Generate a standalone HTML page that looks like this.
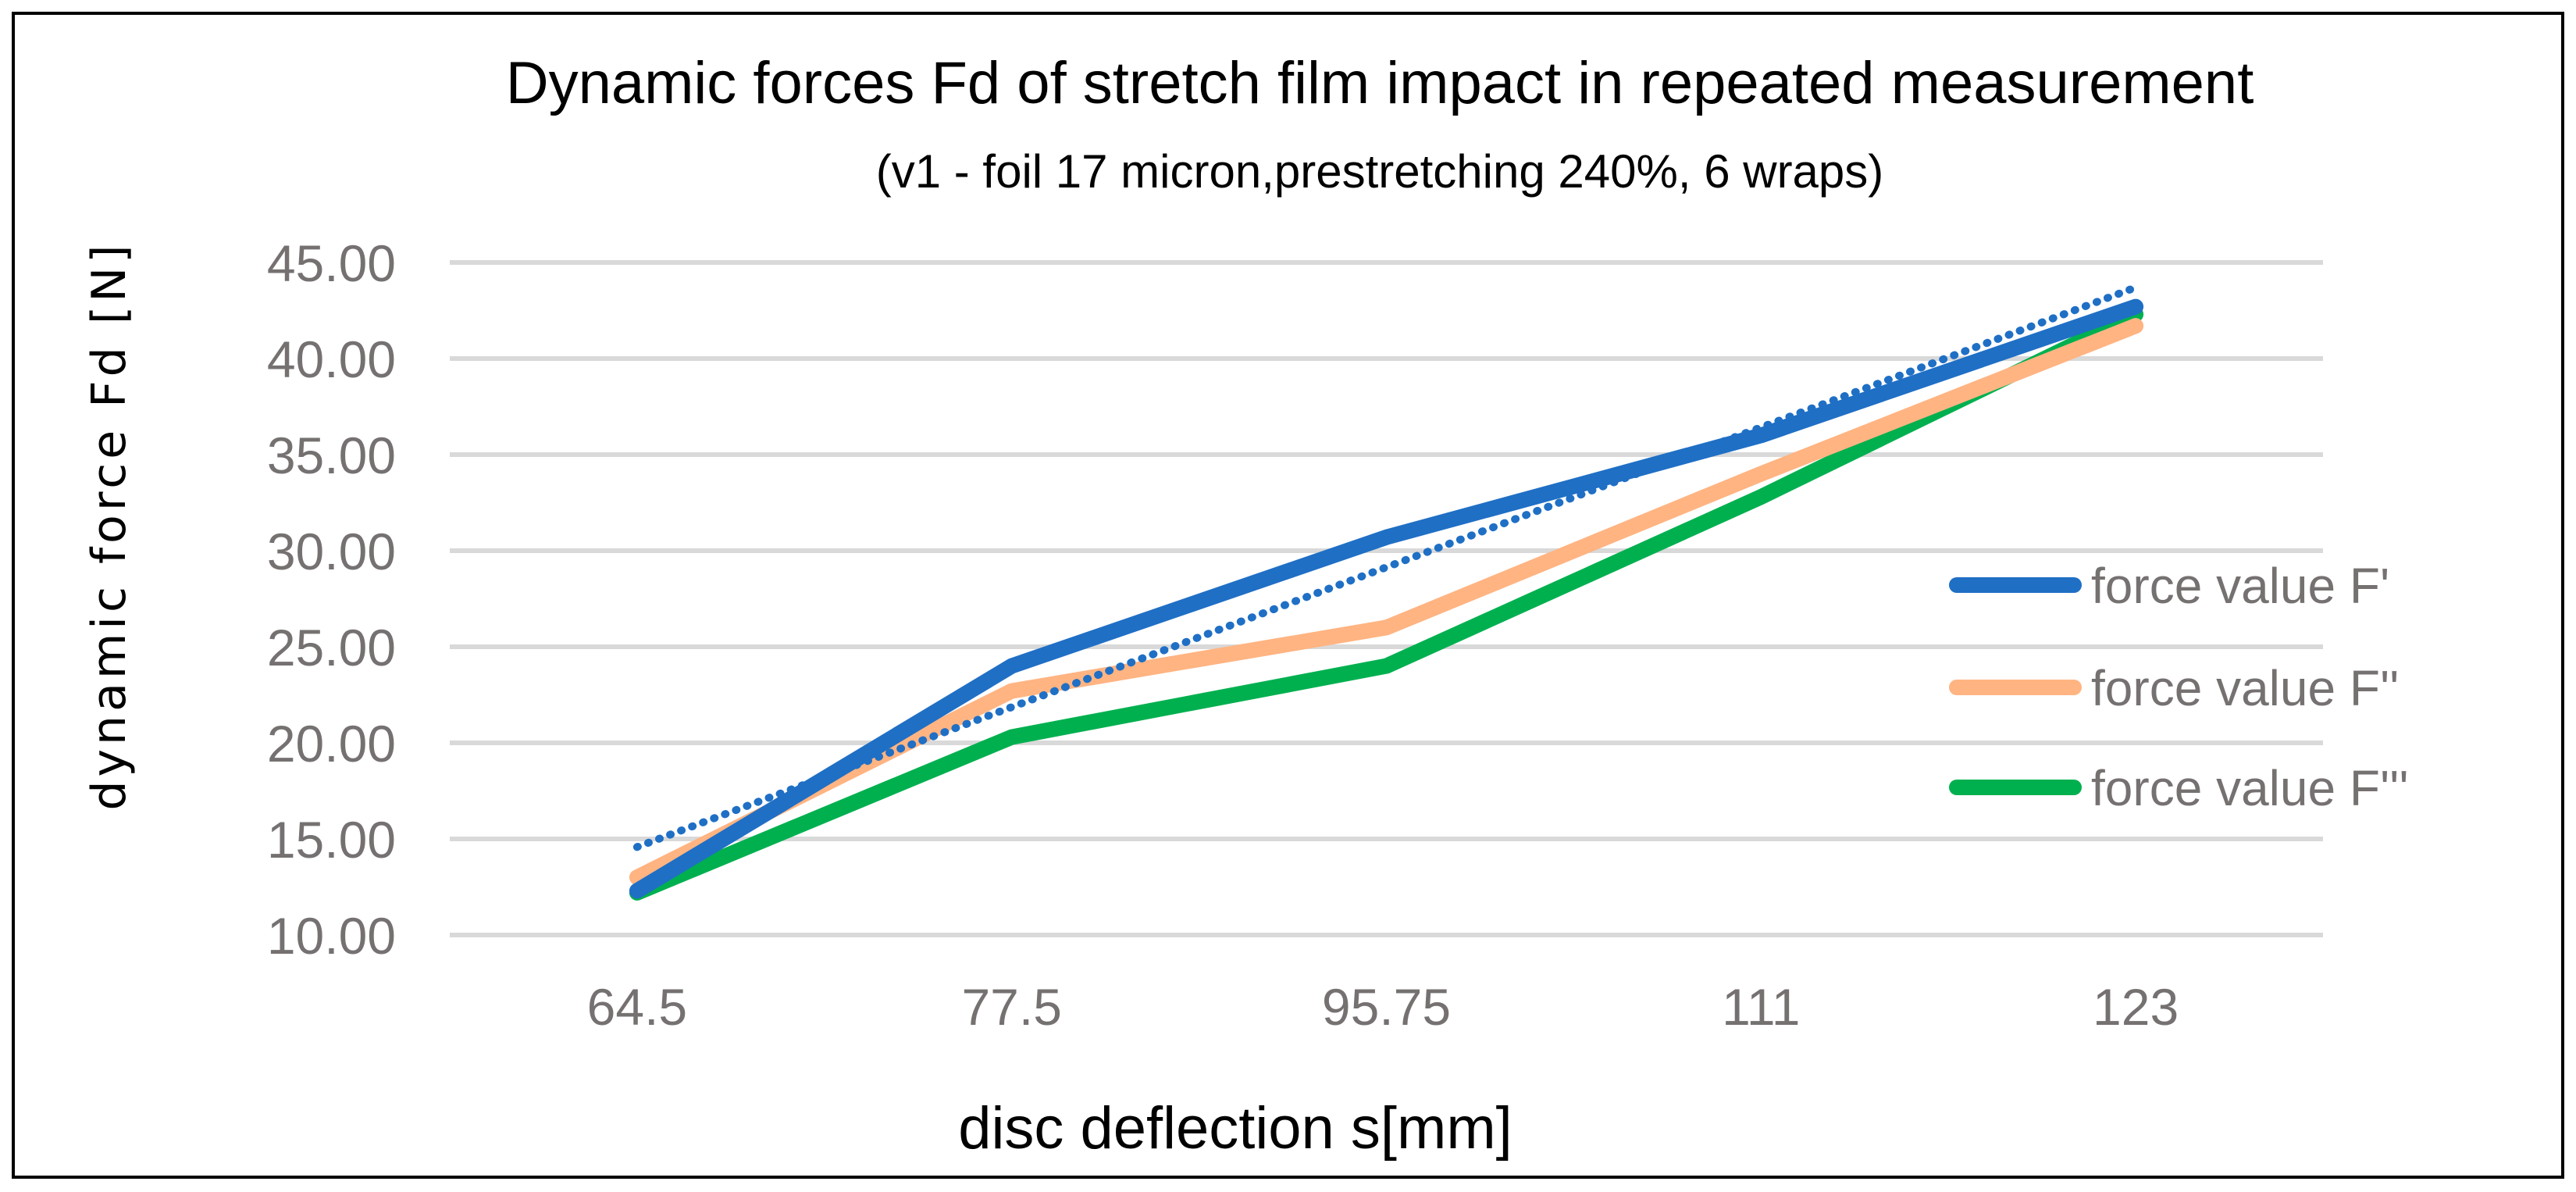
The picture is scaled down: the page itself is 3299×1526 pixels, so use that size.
<!DOCTYPE html>
<html><head><meta charset="utf-8"><style>
html,body{margin:0;padding:0;background:#fff;}
svg{display:block;}
text{font-family:"Liberation Sans",sans-serif;}
</style></head><body>
<svg id="chart" width="3299" height="1526" viewBox="0 0 3299 1526" xmlns="http://www.w3.org/2000/svg">
<rect x="17" y="17" width="3265" height="1490" fill="#fff" stroke="#000" stroke-width="4"/>
<text x="1767" y="132" text-anchor="middle" font-size="76" fill="#000">Dynamic forces Fd of stretch film impact in repeated measurement</text>
<text x="1767" y="240" text-anchor="middle" font-size="60" fill="#000">(v1 - foil 17 micron,prestretching 240%, 6 wraps)</text>
<g id="grid"></g>
<g id="yticks"></g>
<g id="xticks"></g>
<g id="series"></g>
<text x="1582" y="1470" text-anchor="middle" font-size="76" fill="#000">disc deflection s[mm]</text>
<text transform="translate(160,673) rotate(-90)" text-anchor="middle" font-size="60" letter-spacing="5" fill="#000" style="font-family:'DejaVu Sans',sans-serif">dynamic force Fd [N]</text>
<g id="legend"></g>
</svg>
<script>
const categories = ["64.5","77.5","95.75","111","123"];
const seriesF1 = [12.3, 24.0, 30.7, 36.0, 42.7];
const seriesF2 = [13.0, 22.7, 26.0, 34.0, 41.7];
const seriesF3 = [12.2, 20.3, 24.0, 32.8, 42.3];
const seriesNames = ["force value F'", "force value F''", "force value F'''"];
const yTicks = [10, 15, 20, 25, 30, 35, 40, 45];
const yTickLabels = ["10.00","15.00","20.00","25.00","30.00","35.00","40.00","45.00"];

const NS = "http://www.w3.org/2000/svg";
const plotL = 576, plotR = 2975, yTop = 336, yBot = 1197, yMin = 10, yMax = 45;
const band = (plotR - plotL) / categories.length;
function xPos(i){ return plotL + band * (i + 0.5); }
function yPos(v){ return yBot - (v - yMin) / (yMax - yMin) * (yBot - yTop); }
function mk(tag, attrs, parent){ const e = document.createElementNS(NS, tag); for (const k in attrs) e.setAttribute(k, attrs[k]); parent.appendChild(e); return e; }

const grid = document.getElementById('grid');
const yt = document.getElementById('yticks');
yTicks.forEach((v, i) => {
  const l = mk('line', {x1: plotL, x2: plotR, y1: yPos(v), y2: yPos(v), stroke: '#d9d9d9', 'stroke-width': 6}, grid);
  
  
  const t = mk('text', {x: 507, y: yPos(v) + 24, 'text-anchor': 'end', 'font-size': 66, fill: '#767171'}, yt);
  t.textContent = yTickLabels[i];
  
  
});
const xt = document.getElementById('xticks');
categories.forEach((c, i) => {
  const t = mk('text', {x: xPos(i), y: 1312, 'text-anchor': 'middle', 'font-size': 66, fill: '#767171'}, xt);
  t.textContent = c;
  
  
});

const sg = document.getElementById('series');
const colors = ['#1f6fc5', '#ffb482', '#00b04f'];
const all = [seriesF1, seriesF2, seriesF3];
const n = seriesF1.length;
let sx=0, sy=0, sxy=0, sxx=0;
seriesF1.forEach((v,i)=>{sx+=i; sy+=v; sxy+=i*v; sxx+=i*i;});
const slope = (n*sxy - sx*sy)/(n*sxx - sx*sx);
const icpt = (sy - slope*sx)/n;
[2,1,0].forEach(k => {
  const pts = all[k].map((v,i)=>xPos(i)+','+yPos(v)).join(' ');
  const p = mk('polyline', {points: pts, fill: 'none', stroke: colors[k], 'stroke-width': 20, 'stroke-linejoin': 'round', 'stroke-linecap': 'round'}, sg);
  
  
});
const tr = mk('line', {x1: xPos(0), y1: yPos(icpt), x2: xPos(n-1), y2: yPos(icpt + slope*(n-1)), stroke: '#1f6fc5', 'stroke-width': 10, 'stroke-dasharray': '1 14', 'stroke-linecap': 'round'}, sg);



const lg = document.getElementById('legend');
[749, 880, 1008].forEach((y, k) => {
  const l = mk('line', {x1: 2506, x2: 2656, y1: y, y2: y, stroke: colors[k], 'stroke-width': 20, 'stroke-linecap': 'round'}, lg);
  
  
  const t = mk('text', {x: 2678, y: y + 23, 'font-size': 64, fill: '#767171'}, lg);
  t.textContent = seriesNames[k];
  
  
});
</script>
</body></html>
